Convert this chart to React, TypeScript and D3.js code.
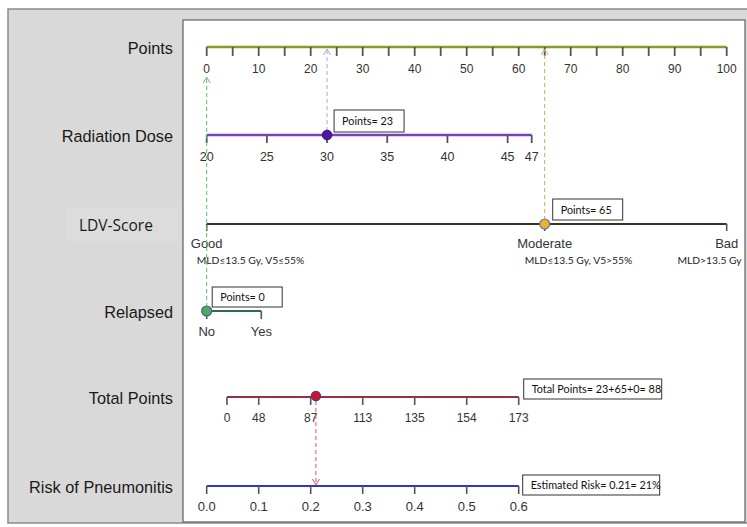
import React from 'react';
import * as d3 from 'd3';

const width = 747;
const height = 527;

// nomogram values
const pointTicks = d3.range(0, 101, 5);
const doseTicks = [20, 25, 30, 35, 40, 45, 47];
const doseDomain = [20, 47];
const dosePointRange = [0, 62.5];
const ldvLevels = ['Good', 'Moderate', 'Bad'];
const ldvNotes = ['MLD≤13.5 Gy, V5≤55%', 'MLD≤13.5 Gy, V5>55%', 'MLD>13.5 Gy'];
const ldvPoints = [0, 65, 100];
const relapsedLevels = ['No', 'Yes'];
const relapsedPoints = [0, 10.5];
const totalTicks = [0, 48, 87, 113, 135, 154, 173];
const totalRisk = [0.039, 0.1, 0.2, 0.3, 0.4, 0.5, 0.6];
const riskTicks = [0, 0.1, 0.2, 0.3, 0.4, 0.5, 0.6];

const selDose = 30;
const selDosePts = 23;
const selLdv = 'Moderate';
const selLdvPts = 65;
const selRelapsed = 'No';
const selRelapsedPts = 0;
const selTotal = 88;
const selRisk = 0.21;

const rows = {
  points: 47,
  dose: 135,
  ldv: 224,
  relapsed: 311,
  total: 397,
  risk: 486
};

const sans = '"Liberation Sans", Arial, sans-serif';
const cal = 'Lato, "Open Sans", sans-serif';

const x = d3.scaleLinear().domain([0, 100]).range([206.7, 726.7]);
const riskX = d3.scaleLinear().domain([0, 1]).range([206.7, 726.7]);
const doseX = d3.scaleLinear().domain(doseDomain).range(dosePointRange.map(p => x(p)));
const ldvX = d3.scaleOrdinal<string, number>().domain(ldvLevels).range(ldvPoints.map(p => x(p)));
const relX = d3.scaleOrdinal<string, number>().domain(relapsedLevels).range(relapsedPoints.map(p => x(p)));
const totalX = d3.scaleLinear().domain(totalTicks).range(totalRisk.map(r => riskX(r)));

function Arrow({ x0, y0, y1, color }: { x0: number; y0: number; y1: number; color: string }) {
  const dir = y1 < y0 ? 1 : -1;
  return (
    <g stroke={color} fill="none" strokeWidth={1}>
      <line x1={x0} y1={y0} x2={x0} y2={y1} strokeDasharray="4,3" />
      <path d={`M${x0 - 3.5},${y1 + dir * 6}L${x0},${y1}L${x0 + 3.5},${y1 + dir * 6}`} />
    </g>
  );
}

function Box({ bx, by, w, h, text }: { bx: number; by: number; w: number; h: number; text: string }) {
  return (
    <g>
      <rect x={bx} y={by} width={w} height={h} fill="white" stroke="#333" strokeWidth={1} />
      <text x={bx + 8} y={by + h / 2 + 4} fontFamily={cal} fontSize={10.8} fill="#111">{text}</text>
    </g>
  );
}

function RowLabel({ y, text }: { y: number; text: string }) {
  return (
    <text x={173} y={y + 7} textAnchor="end" fontFamily={sans} fontSize={16.3} fill="#1a1a1a">{text}</text>
  );
}

export default function App() {
  const tickColor = '#555';
  const doseDotX = doseX(selDose);
  const ldvDotX = ldvX(selLdv);
  const relDotX = relX(selRelapsed);
  const riskDotX = riskX(selRisk);

  return (
    <svg width={width} height={height} style={{ position: 'absolute', left: 0, top: 0 }}>
      {/* outer gray panel and white plot panel */}
      <rect x={8} y={9} width={750} height={514} fill="#d9d9d9" stroke="#8a8a8a" strokeWidth={1.5} />
      <rect x={183} y={20} width={562} height={502} fill="white" stroke="#6a6a6a" strokeWidth={1.3} />
      <rect x={67} y={207} width={114} height={35} fill="#dcdcdc" />

      <RowLabel y={rows.points} text="Points" />
      <RowLabel y={rows.dose} text="Radiation Dose" />
      <text x={79} y={rows.ldv + 7} fontFamily={'"Open Sans", sans-serif'} fontSize={15.5} fill="#1a1a1a">LDV-Score</text>
      <RowLabel y={rows.relapsed} text="Relapsed" />
      <RowLabel y={rows.total} text="Total Points" />
      <RowLabel y={rows.risk} text="Risk of Pneumonitis" />

      {/* points axis */}
      <line x1={x(0)} x2={x(100)} y1={rows.points} y2={rows.points} stroke="#8b9a2b" strokeWidth={2.5} />
      {pointTicks.map(t => (
        <g key={t}>
          <line x1={x(t)} x2={x(t)} y1={rows.points} y2={rows.points + 9} stroke={tickColor} strokeWidth={1.8} />
          {t % 10 === 0 && (
            <text x={x(t)} y={rows.points + 25.5} textAnchor="middle" fontFamily={sans} fontSize={12} fill="#333">{t}</text>
          )}
        </g>
      ))}

      {/* radiation dose */}
      <line x1={doseX(doseDomain[0])} x2={doseX(doseDomain[1])} y1={rows.dose} y2={rows.dose} stroke="#7b3fc4" strokeWidth={2.5} />
      {doseTicks.map(t => (
        <g key={t}>
          <line x1={doseX(t)} x2={doseX(t)} y1={rows.dose} y2={rows.dose + 8} stroke={tickColor} strokeWidth={1.8} />
          <text x={doseX(t)} y={rows.dose + 26} textAnchor="middle" fontFamily={sans} fontSize={12.5} fill="#333">{t}</text>
        </g>
      ))}

      {/* LDV score */}
      <line x1={ldvX('Good')} x2={ldvX('Bad')} y1={rows.ldv} y2={rows.ldv} stroke="#3d3222" strokeWidth={2.2} />
      {ldvLevels.map((l, i) => (
        <g key={l}>
          <line x1={ldvX(l)} x2={ldvX(l)} y1={rows.ldv} y2={rows.ldv + 7} stroke={tickColor} strokeWidth={1.6} />
          <text x={ldvX(l)} y={rows.ldv + 24} textAnchor="middle" fontFamily={sans} fontSize={13} fill="#333">{l}</text>
          <text
            x={i === 0 ? ldvX(l) - 10 : i === 1 ? ldvX(l) - 20 : ldvX(l) + 15}
            y={rows.ldv + 40}
            textAnchor={i === 2 ? 'end' : 'start'}
            fontFamily={cal} fontSize={10.3} fill="#222"
          >{ldvNotes[i]}</text>
        </g>
      ))}

      {/* relapsed */}
      <line x1={relX('No')} x2={relX('Yes')} y1={rows.relapsed} y2={rows.relapsed} stroke="#2f6b50" strokeWidth={2.2} />
      {relapsedLevels.map(l => (
        <g key={l}>
          <line x1={relX(l)} x2={relX(l)} y1={rows.relapsed} y2={rows.relapsed + 8} stroke={tickColor} strokeWidth={1.6} />
          <text x={relX(l)} y={rows.relapsed + 25} textAnchor="middle" fontFamily={sans} fontSize={13} fill="#333">{l}</text>
        </g>
      ))}

      {/* total points */}
      <line x1={totalX(totalTicks[0])} x2={totalX(totalTicks[totalTicks.length - 1])} y1={rows.total} y2={rows.total} stroke="#9b2d3f" strokeWidth={2} />
      {totalTicks.map(t => (
        <g key={t}>
          <line x1={totalX(t)} x2={totalX(t)} y1={rows.total} y2={rows.total + 8} stroke={tickColor} strokeWidth={1.6} />
          <text x={totalX(t)} y={rows.total + 25} textAnchor="middle" fontFamily={sans} fontSize={12} fill="#333">{t}</text>
        </g>
      ))}

      {/* risk */}
      <line x1={riskX(0)} x2={riskX(0.6)} y1={rows.risk} y2={rows.risk} stroke="#3434cc" strokeWidth={2.2} />
      {riskTicks.map(t => (
        <g key={t}>
          <line x1={riskX(t)} x2={riskX(t)} y1={rows.risk} y2={rows.risk + 8} stroke={tickColor} strokeWidth={1.6} />
          <text x={riskX(t)} y={rows.risk + 24.5} textAnchor="middle" fontFamily={sans} fontSize={13} fill="#333">{t.toFixed(1)}</text>
        </g>
      ))}

      {/* guide arrows */}
      <Arrow x0={relDotX} y0={rows.relapsed - 4} y1={rows.points + 30} color="#5cbf5c" />
      <Arrow x0={doseDotX} y0={rows.dose - 4} y1={rows.points + 2} color="#b3a3e6" />
      <Arrow x0={ldvDotX} y0={rows.ldv - 4} y1={rows.points + 2} color="#c4ab5c" />
      <Arrow x0={riskDotX} y0={rows.total + 4} y1={rows.risk - 1} color="#e25555" />

      {/* selected values */}
      <circle cx={doseDotX} cy={rows.dose} r={4.8} fill="#4a1a9a" stroke="#3a1080" strokeWidth={1} />
      <circle cx={ldvDotX} cy={rows.ldv} r={5} fill="#e9b526" stroke="#6a76a8" strokeWidth={1.2} />
      <circle cx={relDotX} cy={rows.relapsed} r={5} fill="#4caf50" stroke="#4a5aa8" strokeWidth={1.2} />
      <circle cx={riskDotX} cy={rows.total - 1} r={4.6} fill="#d4131f" stroke="#3a3aa0" strokeWidth={1.2} />

      <Box bx={doseDotX + 7} by={rows.dose - 25} w={70} h={22} text={`Points= ${selDosePts}`} />
      <Box bx={ldvDotX + 8} by={rows.ldv - 25} w={70} h={21} text={`Points= ${selLdvPts}`} />
      <Box bx={relDotX + 5.5} by={rows.relapsed - 24} w={70} h={20} text={`Points= ${selRelapsedPts}`} />
      <Box bx={totalX(173) + 5} by={rows.total - 18} w={138} h={20}
        text={`Total Points= ${selDosePts}+${selLdvPts}+${selRelapsedPts}= ${selTotal}`} />
      <Box bx={riskX(0.6) + 4} by={rows.risk - 11} w={137} h={20}
        text={`Estimated Risk= ${selRisk}= ${Math.round(selRisk * 100)}%`} />
    </svg>
  );
}
